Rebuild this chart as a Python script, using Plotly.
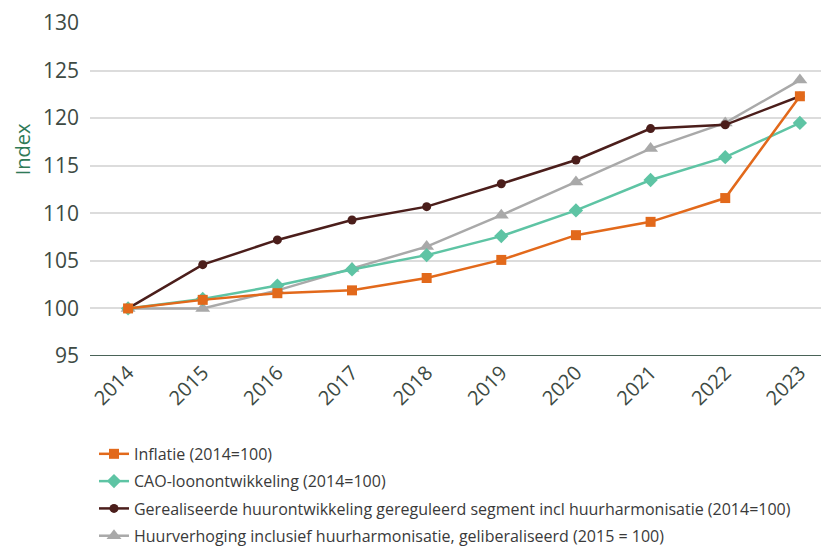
import plotly.graph_objects as go

years = [2014, 2015, 2016, 2017, 2018, 2019, 2020, 2021, 2022, 2023]
year_labels = [str(y) for y in years]

inflatie = [100, 100.9, 101.6, 101.9, 103.2, 105.1, 107.7, 109.1, 111.6, 122.3]
cao = [100, 101.0, 102.4, 104.1, 105.6, 107.6, 110.3, 113.5, 115.9, 119.5]
gerealiseerd = [100, 104.6, 107.2, 109.3, 110.7, 113.1, 115.6, 118.9, 119.3, 122.3]
huurverhoging = [100, 100.0, 101.9, 104.2, 106.5, 109.8, 113.3, 116.8, 119.5, 124.0]

names = [
    "Inflatie (2014=100)",
    "CAO-loonontwikkeling (2014=100)",
    "Gerealiseerde huurontwikkeling gereguleerd segment incl huurharmonisatie (2014=100)",
    "Huurverhoging inclusief huurharmonisatie, geliberaliseerd (2015 = 100)",
]
colors = ["#e2691b", "#5ec4a4", "#4b1e1b", "#a9a9a9"]
symbols = ["square", "diamond", "circle", "triangle-up"]
sizes = [10, 11, 9, 13]
series = [inflatie, cao, gerealiseerd, huurverhoging]

fig = go.Figure()
# draw order: grey, brown, teal, orange (orange on top)
for idx in [3, 2, 1, 0]:
    fig.add_trace(go.Scatter(
        x=years, y=series[idx], name=names[idx], mode="lines+markers",
        line=dict(color=colors[idx], width=2.5),
        marker=dict(symbol=symbols[idx], size=sizes[idx], color=colors[idx]),
        legendgroup=f"g{idx}", legendrank=idx + 1,
    ))

tick_color = "#3d4a43"
# page body has an 8px default margin, so the figure is 8px smaller than the window
fig.update_layout(
    width=821, height=539,
    margin=dict(l=82, r=0, t=15, b=191, autoexpand=False),
    paper_bgcolor="white", plot_bgcolor="white",
    font=dict(family="Open Sans", color=tick_color),
    showlegend=True,
    legend=dict(
        x=0.0054, xanchor="left", y=-0.243, yanchor="top",
        traceorder="grouped", tracegroupgap=3.5,
        font=dict(size=16, color="#3a3a3a"),
        itemwidth=30,
    ),
    xaxis=dict(
        range=[2013.49, 2023.39], tickmode="array", tickvals=years, ticktext=year_labels,
        tickangle=-45, tickfont=dict(size=20, color=tick_color),
        showgrid=False, zeroline=False, showline=False, automargin=False,
    ),
    yaxis=dict(
        range=[95, 130], tickvals=[95, 100, 105, 110, 115, 120, 125, 130],
        tickfont=dict(size=21, color=tick_color), ticklabelstandoff=10,
        showgrid=True, gridcolor="#dcdcdc", gridwidth=1.5,
        zeroline=False, showline=False, automargin=False,
    ),
    annotations=[dict(
        text="Index", textangle=-90, xref="paper", yref="paper",
        x=-0.091, y=0.62, xanchor="center", yanchor="middle", showarrow=False,
        font=dict(size=20, color="#2f7a57", family="Open Sans"),
    )],
    shapes=[dict(type="line", xref="paper", yref="y", x0=0, x1=1, y0=95, y1=95,
                 line=dict(color="#4a6358", width=2), layer="above")],
)

fig.write_html("out.html")
